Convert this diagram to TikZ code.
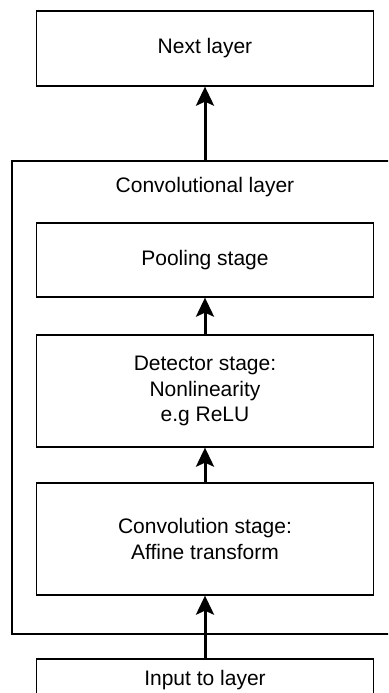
\documentclass[tikz,border=0pt]{standalone}
\usepackage{fontspec}
\setmainfont{Liberation Sans}
\usetikzlibrary{arrows.meta}
\tikzset{
  stagebox/.style={draw=black, line width=1.3pt, rectangle, inner sep=0pt,
    minimum width=337pt, align=center,
    font=\fontsize{21}{25.5}\selectfont},
  flow/.style={line width=3pt, -{Stealth[length=19pt, width=18pt, inset=4pt]}},
  caption/.style={font=\fontsize{21}{25.5}\selectfont, inner sep=0pt}
}
\begin{document}
\begin{tikzpicture}[x=1pt, y=-1pt]
  \useasboundingbox (0,0) rectangle (388,693);
  \clip (0,0) rectangle (388,693);

  % enclosing convolutional layer
  \node[stagebox, minimum width=386pt, minimum height=473pt] (conv) at (205,397.5) {};
  \node[caption] (convlabel) at (205,187) {Convolutional layer};

  % stages
  \node[stagebox, minimum height=75pt] (next) at (205,48.5) {Next layer};
  \node[stagebox, minimum height=74pt] (pool) at (205,260) {Pooling stage};
  \node[stagebox, minimum height=112pt] (detect) at (205,391)
    {Detector stage:\\Nonlinearity\\e.g ReLU};
  \node[stagebox, minimum height=112pt] (convst) at (205,539)
    {Convolution stage:\\Affine transform};
  \node[stagebox, minimum height=42pt] (input) at (205,680) {Input to layer};

  % data flow
  \draw[flow] (input.north) -- (convst.south);
  \draw[flow] (convst.north) -- (detect.south);
  \draw[flow] (detect.north) -- (pool.south);
  \draw[flow] (conv.north) -- (next.south);
\end{tikzpicture}
\end{document}
